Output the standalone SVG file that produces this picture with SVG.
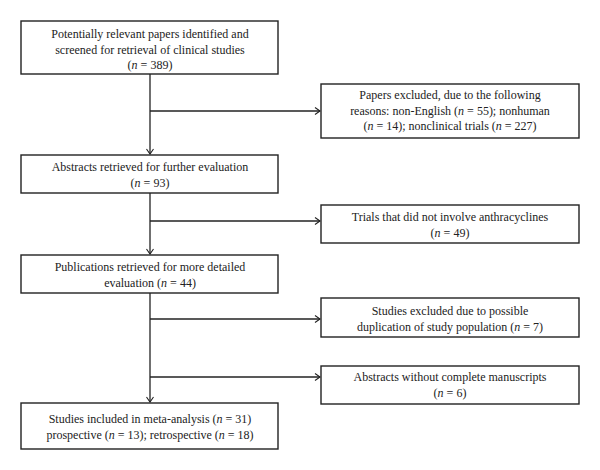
<svg xmlns="http://www.w3.org/2000/svg" width="600" height="470" viewBox="0 0 600 470">
<style>
.box{fill:#fff;stroke:#222;stroke-width:1.4}
.t{font-family:"Liberation Serif","Times New Roman",serif;font-size:12px;fill:#222;text-anchor:middle}
.i{font-style:italic}
.c{fill:none;stroke:#222;stroke-width:1.3}
</style>
<defs>
<marker id="ah" markerWidth="10" markerHeight="10" refX="8" refY="5" orient="auto" markerUnits="userSpaceOnUse">
<polyline points="3,1.5 8,5 3,8.5" fill="none" stroke="#222" stroke-width="1.1"/>
</marker>
</defs>
<rect width="600" height="470" fill="#fff"/>
<g id="connectors">
<line class="c" x1="150" y1="74" x2="150" y2="154" marker-end="url(#ah)"/>
<line class="c" x1="150" y1="193" x2="150" y2="254" marker-end="url(#ah)"/>
<line class="c" x1="150" y1="293" x2="150" y2="402" marker-end="url(#ah)"/>
<line class="c" x1="150" y1="111" x2="320" y2="111" marker-end="url(#ah)"/>
<line class="c" x1="150" y1="221" x2="320" y2="221" marker-end="url(#ah)"/>
<line class="c" x1="150" y1="319" x2="320" y2="319" marker-end="url(#ah)"/>
<line class="c" x1="150" y1="377" x2="320" y2="377" marker-end="url(#ah)"/>
</g>
<g id="n1">
<rect class="box" x="21" y="21" width="257" height="53"/>
<text class="t" x="150" y="38">Potentially relevant papers identified and</text>
<text class="t" x="150" y="53.5">screened for retrieval of clinical studies</text>
<text class="t" x="150" y="69">(<tspan class="i">n</tspan> = 389)</text>
</g>
<g id="n2">
<rect class="box" x="321" y="84" width="258" height="54"/>
<text class="t" x="450" y="99">Papers excluded, due to the following</text>
<text class="t" x="450" y="115">reasons: non-English (<tspan class="i">n</tspan> = 55); nonhuman</text>
<text class="t" x="450" y="130">(<tspan class="i">n</tspan> = 14); nonclinical trials (<tspan class="i">n</tspan> = 227)</text>
</g>
<g id="n3">
<rect class="box" x="21" y="155" width="257" height="38"/>
<text class="t" x="150" y="171">Abstracts retrieved for further evaluation</text>
<text class="t" x="150" y="186.5">(<tspan class="i">n</tspan> = 93)</text>
</g>
<g id="n4">
<rect class="box" x="321" y="205" width="258" height="38"/>
<text class="t" x="450" y="221">Trials that did not involve anthracyclines</text>
<text class="t" x="450" y="237">(<tspan class="i">n</tspan> = 49)</text>
</g>
<g id="n5">
<rect class="box" x="21" y="255" width="257" height="38"/>
<text class="t" x="150" y="271">Publications retrieved for more detailed</text>
<text class="t" x="150" y="287">evaluation (<tspan class="i">n</tspan> = 44)</text>
</g>
<g id="n6">
<rect class="box" x="321" y="298" width="258" height="39"/>
<text class="t" x="450" y="315">Studies excluded due to possible</text>
<text class="t" x="450" y="331">duplication of study population (<tspan class="i">n</tspan> = 7)</text>
</g>
<g id="n7">
<rect class="box" x="321" y="366" width="258" height="38"/>
<text class="t" x="450" y="381">Abstracts without complete manuscripts</text>
<text class="t" x="450" y="397">(<tspan class="i">n</tspan> = 6)</text>
</g>
<g id="n8">
<rect class="box" x="21" y="403" width="257" height="46"/>
<text class="t" x="150" y="423">Studies included in meta-analysis (<tspan class="i">n</tspan> = 31)</text>
<text class="t" x="150" y="439">prospective (<tspan class="i">n</tspan> = 13); retrospective (<tspan class="i">n</tspan> = 18)</text>
</g>
</svg>
